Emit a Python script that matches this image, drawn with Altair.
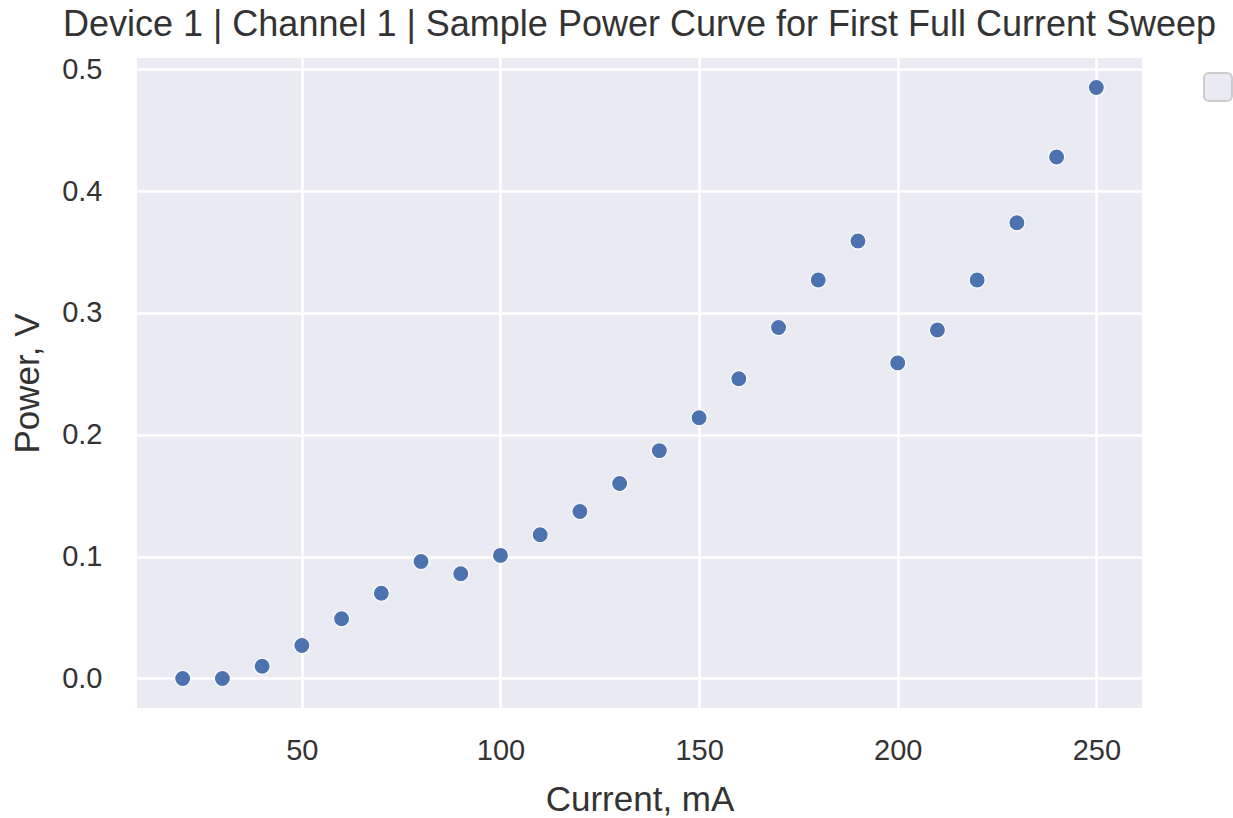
import altair as alt
import pandas as pd

current_ma = [20, 30, 40, 50, 60, 70, 80, 90, 100, 110, 120, 130, 140, 150,
              160, 170, 180, 190, 200, 210, 220, 230, 240, 250]
power_v = [0.000, 0.000, 0.010, 0.027, 0.049, 0.070, 0.096, 0.086, 0.101,
           0.118, 0.137, 0.160, 0.187, 0.214, 0.246, 0.288, 0.327, 0.359,
           0.259, 0.286, 0.327, 0.374, 0.428, 0.485]
x_ticks = [50, 100, 150, 200, 250]
y_ticks = [0.0, 0.1, 0.2, 0.3, 0.4, 0.5]
title_text = "Device 1 | Channel 1 | Sample Power Curve for First Full Current Sweep"

df = pd.DataFrame({"current": current_ma, "power": power_v})

FONT = "Liberation Sans"
TXT = "#333333"

points = alt.Chart(df).mark_point(
    filled=True, size=260, color="#4C72B0", stroke="white", strokeWidth=1.2,
    opacity=1
).encode(
    x=alt.X("current:Q", title="Current, mA",
            scale=alt.Scale(domain=[8.5, 261.5], nice=False, zero=False),
            axis=alt.Axis(values=x_ticks, format="d")),
    y=alt.Y("power:Q", title="Power, V",
            scale=alt.Scale(domain=[-0.02425, 0.50925], nice=False, zero=False),
            axis=alt.Axis(values=y_ticks, format=".1f")),
)

legend_box = alt.Chart(alt.Data(values=[{"k": 1}])).mark_rect(
    fill="#EAEAF2", stroke="#CCCCCC", strokeWidth=2, cornerRadius=5, clip=False
).encode(
    x=alt.value(1067), x2=alt.value(1095),
    y=alt.value(15), y2=alt.value(43),
)

chart = alt.layer(points, legend_box).properties(
    width=1005, height=650,
    title=alt.TitleParams(title_text, font=FONT, fontSize=36, fontWeight="normal",
                          color=TXT, anchor="middle", offset=11),
    autosize=alt.AutoSizeParams(type="none"),
    padding={"left": 137, "top": 58, "right": 91, "bottom": 110},
).configure_view(
    fill="#EAEAF2", stroke=None
).configure_axis(
    grid=True, gridColor="white", gridWidth=2.5, domain=False, ticks=False,
    labelFont=FONT, labelFontSize=29, labelColor=TXT,
    titleFont=FONT, titleFontSize=35, titleColor=TXT, titleFontWeight="normal",
).configure_axisX(
    labelPadding=28, titlePadding=17
).configure_axisY(
    labelPadding=35, titlePadding=16
)

chart.save("out.html", embed_options={"renderer": "svg", "actions": False})
